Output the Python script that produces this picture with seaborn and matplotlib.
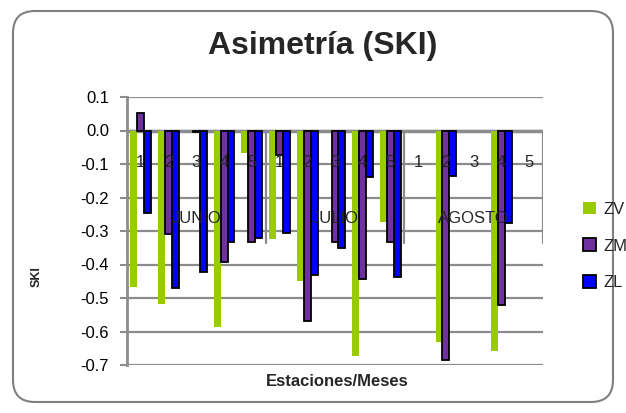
import matplotlib
matplotlib.use("Agg")
import matplotlib.pyplot as plt
import numpy as np
import pandas as pd
import seaborn as sns
from matplotlib.patches import FancyBboxPatch, Patch
from matplotlib.transforms import IdentityTransform

# Skewness (SKI) per station and month, three zones (NaN = no value)
meses = ["JUNIO", "JULIO", "AGOSTO"]
estaciones = ["1", "2", "3", "4", "5"]
series = ["ZV", "ZM", "ZL"]
nan = np.nan

zv = [-0.466, -0.519, 0.0, -0.586, -0.068,
      -0.325, -0.448, 0.0, -0.673, -0.272,
      nan, -0.630, nan, -0.657, nan]
zm = [0.051, -0.309, -0.005, -0.392, -0.332,
      -0.073, -0.569, -0.332, -0.443, -0.332,
      nan, -0.685, nan, -0.521, nan]
zl = [-0.245, -0.469, -0.423, -0.332, -0.322,
      -0.307, -0.431, -0.350, -0.140, -0.436,
      nan, -0.136, nan, -0.277, nan]

colores = {"ZV": "#99CC00", "ZM": "#7030A0", "ZL": "#0000FF"}

categorias = [f"{m} {e}" for m in meses for e in estaciones]
df = pd.DataFrame({
    "cat": categorias * 3,
    "serie": ["ZV"] * 15 + ["ZM"] * 15 + ["ZL"] * 15,
    "ski": zv + zm + zl,
})

sns.set_theme(style="white")
plt.rcParams["font.family"] = ["Liberation Sans", "DejaVu Sans"]

fig = plt.figure(figsize=(6.26, 4.13), dpi=100)
ax = fig.add_axes([127 / 626, 1 - 365 / 413, (543 - 127) / 626, (365 - 97) / 413])

sns.barplot(data=df, x="cat", y="ski", hue="serie", order=categorias,
            hue_order=series, palette=colores, width=0.75, dodge=True,
            errorbar=None, legend=False, ax=ax, saturation=1)

for serie, cont in zip(series, ax.containers):
    for bar in cont:
        if serie == "ZV" or bar.get_height() == 0 or np.isnan(bar.get_height()):
            bar.set_edgecolor("none")
            bar.set_linewidth(0)
        else:
            bar.set_edgecolor("black")
            bar.set_linewidth(1.3)
        bar.set_zorder(3)

gris = "#8C8C8C"
ax.set_ylim(-0.7, 0.1)
ax.set_xlim(-0.5, 14.5)
ax.set_yticks([0.1, 0.0, -0.1, -0.2, -0.3, -0.4, -0.5, -0.6, -0.7])
ax.set_yticklabels(["0.1", "0.0", "-0.1", "-0.2", "-0.3", "-0.4", "-0.5", "-0.6", "-0.7"])
ax.yaxis.grid(True, color=gris, linewidth=1.6, zorder=0)
ax.set_axisbelow(True)
ax.tick_params(axis="y", left=True, length=5, width=1.5, color=gris,
               labelsize=12, pad=8, labelcolor="black")
ax.tick_params(axis="x", bottom=False, labelbottom=False)
ax.set_xlabel("")
ax.set_ylabel("")
for s in ["top", "right", "bottom"]:
    ax.spines[s].set_visible(False)
ax.spines["left"].set_color(gris)
ax.spines["left"].set_linewidth(2)

# category axis crossing at zero
ax.axhline(0, color=gris, linewidth=2.5, zorder=2)
for xb in [4.5, 9.5, 14.5]:
    ax.plot([xb, xb], [0, -0.337], color=gris, linewidth=1.6, zorder=2)

for i in range(15):
    ax.text(i, -0.097, estaciones[i % 5], ha="center", va="center",
            fontsize=12, zorder=5)
for j, m in enumerate(meses):
    ax.text(j * 5 + 2, -0.262, m, ha="center", va="center",
            fontsize=12, zorder=5)

fig.text(323 / 626, 1 - 46 / 413, "Asimetría (SKI)", ha="center", va="center",
         fontsize=23, fontweight="bold")
fig.text(337 / 626, 1 - 382 / 413, "Estaciones/Meses", ha="center", va="center",
         fontsize=12, fontweight="bold")
fig.text(37 / 626, 1 - 277 / 413, "SKI", ha="center", va="center",
         fontsize=9, fontweight="bold", rotation=90)

handles = [Patch(facecolor=colores["ZV"], edgecolor="none"),
           Patch(facecolor=colores["ZM"], edgecolor="black", linewidth=1.3),
           Patch(facecolor=colores["ZL"], edgecolor="black", linewidth=1.3)]
fig.legend(handles, series, loc="center left", bbox_to_anchor=(568 / 626, 1 - 246 / 413),
           frameon=False, handlelength=0.8, handleheight=0.8, handletextpad=0.4,
           labelspacing=1.3, prop={"size": 12})

fig.patches.append(FancyBboxPatch((13, 11), 600, 391,
                                  boxstyle="round,pad=0,rounding_size=22",
                                  transform=IdentityTransform(), facecolor="none",
                                  edgecolor="#808080", linewidth=1.5))

fig.savefig("out.png", dpi=100, facecolor="white")
